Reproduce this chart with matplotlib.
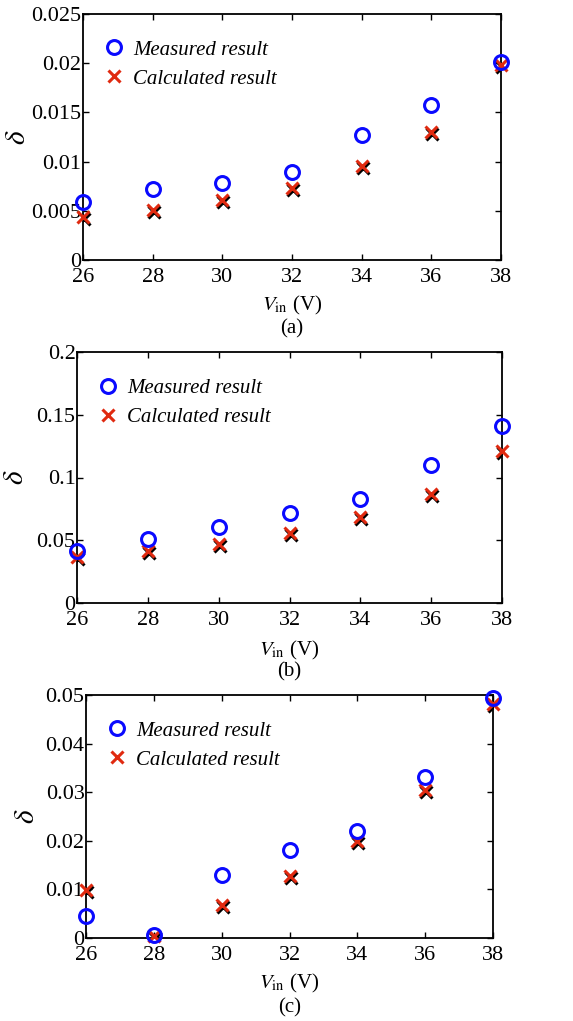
import matplotlib
matplotlib.use('Agg')
import matplotlib.pyplot as plt
from matplotlib.transforms import offset_copy
from matplotlib.ticker import FuncFormatter

plt.rcParams['font.family'] = ['Liberation Serif', 'DejaVu Serif']
plt.rcParams['mathtext.fontset'] = 'stix'

vin = [26, 28, 30, 32, 34, 36, 38]

# panel (a)
meas_a = [0.0059, 0.0072, 0.0078, 0.0089, 0.0127, 0.0158, 0.0201]
calc_a = [0.0044, 0.0051, 0.0061, 0.0073, 0.0096, 0.0130, 0.0198]
# panel (b)
meas_b = [0.0417, 0.0513, 0.0603, 0.0717, 0.0826, 0.1097, 0.1408]
calc_b = [0.0364, 0.0412, 0.0470, 0.0560, 0.0683, 0.0871, 0.1214]
# panel (c)
meas_c = [0.0045, 0.0006, 0.0129, 0.0182, 0.0221, 0.0332, 0.0494]
calc_c = [0.0098, 0.0004, 0.0068, 0.0128, 0.0199, 0.0305, 0.0481]

yticks_a = [0, 0.005, 0.01, 0.015, 0.02, 0.025]
yticks_b = [0, 0.05, 0.1, 0.15, 0.2]
yticks_c = [0, 0.01, 0.02, 0.03, 0.04, 0.05]

W, H = 573, 1021
fig = plt.figure(figsize=(W / 100, H / 100), dpi=100)


def px_axes(l, t, r, b):
    return fig.add_axes([l / W, 1 - b / H, (r - l) / W, (b - t) / H])


def fmt(v, pos):
    if v == 0:
        return '0'
    return ('%.3f' % v).rstrip('0')


# axes, data, ticks, caption, xlabel y, caption y, ylabel x (axes coords)
panels = [
    (px_axes(83, 14, 501, 260), meas_a, calc_a, yticks_a, '(a)', 305, 329, -0.125),
    (px_axes(77, 352, 502, 603), meas_b, calc_b, yticks_b, '(b)', 650, 672, -0.113),
    (px_axes(86, 695, 493, 938), meas_c, calc_c, yticks_c, '(c)', 983, 1008, -0.113),
]

for ax, meas, calc, yt, cap, xl_y, cap_y, yl_x in panels:
    shadow = offset_copy(ax.transData, fig=fig, x=0.8, y=-1.5, units='points')
    ax.plot(vin, calc, 'x', color='black', ms=9, mew=2.2, transform=shadow,
            zorder=2)
    ax.plot(vin, meas, 'o', color='#0a0aff', mfc='none', ms=10, mew=2.2,
            label='Measured result', clip_on=False, zorder=4)
    ax.plot(vin, calc, 'x', color='#e02a10', ms=9, mew=2.2,
            label='Calculated result', clip_on=False, zorder=3)
    ax.set_xlim(26, 38)
    ax.set_ylim(yt[0], yt[-1])
    ax.set_xticks(vin)
    ax.set_yticks(yt)
    ax.yaxis.set_major_formatter(FuncFormatter(fmt))
    ax.tick_params(direction='in', top=True, right=True, length=4,
                   width=1, labelsize=16)
    ax.tick_params(axis='y', pad=1)
    ax.tick_params(axis='x', pad=6)
    for s in ax.spines.values():
        s.set_linewidth(1.3)
    ax.set_ylabel(r'$\delta$', fontsize=21)
    ax.yaxis.set_label_coords(yl_x, 0.5)
    ax.legend(loc='upper left', bbox_to_anchor=(0.005, 0.97), frameon=False,
              handlelength=1.0, handletextpad=0.4, labelspacing=0.45,
              prop={'style': 'italic', 'size': 15})
    cx = 0.5 * (ax.get_position().x0 + ax.get_position().x1)
    fig.text(cx, 1 - xl_y / H, r'$V_{\rm in}$ (V)', ha='center', va='center',
             fontsize=15)
    fig.text(cx, 1 - cap_y / H, cap, ha='center', va='center', fontsize=15)

fig.savefig('out.png', dpi=100)
